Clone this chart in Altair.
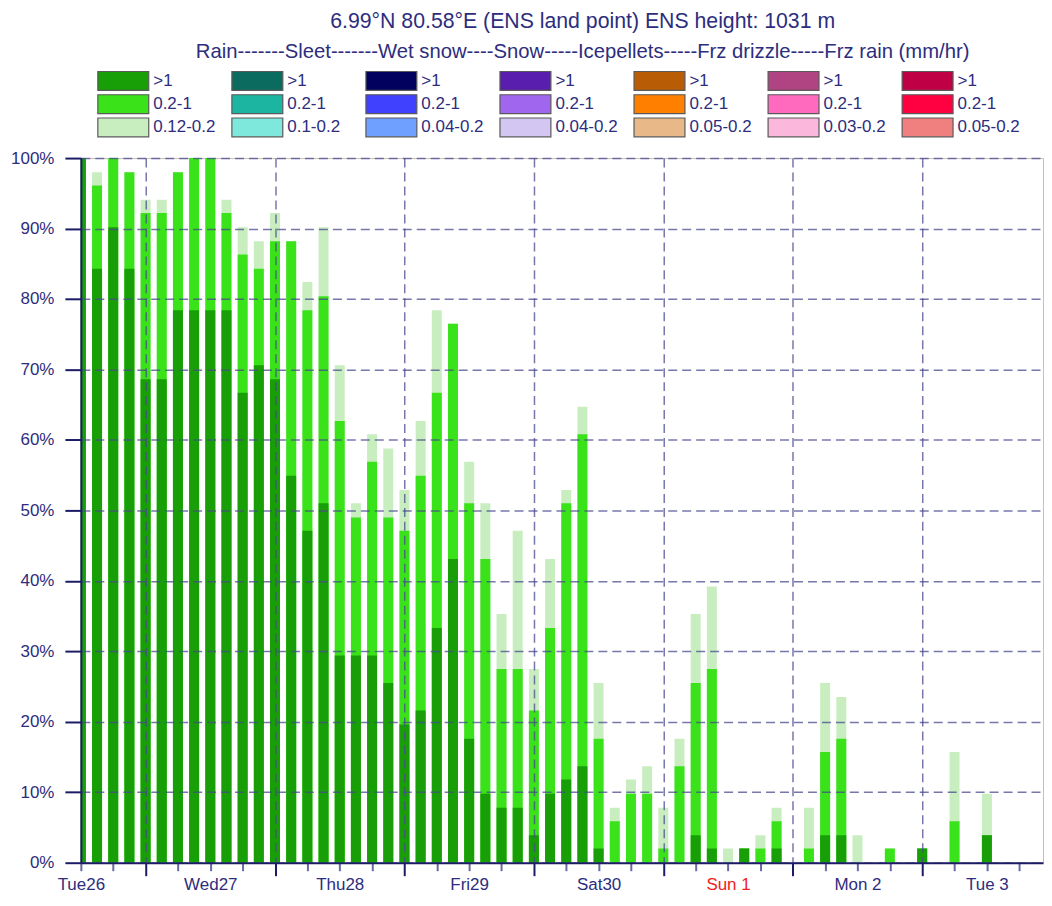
import altair as alt
import pandas as pd

# ---------------- data ----------------
# 3-hourly steps, hours after Tue 26 12 UTC
step_hours = list(range(0, 180, 3))

# cumulative probabilities (%) for rain
rain_gt1 = [100, 84.3, 90.2, 84.3, 68.6, 68.6, 78.4, 78.4, 78.4, 78.4,
            66.7, 70.6, 68.6, 54.9, 47.1, 51.0, 29.4, 29.4, 29.4, 25.5,
            19.6, 21.6, 33.3, 43.1, 17.6, 9.8, 7.8, 7.8, 3.9, 9.8,
            11.8, 13.7, 2.0, 0, 0, 0, 0, 0, 3.9, 2.0,
            0, 2.0, 0, 2.0, 0, 0, 3.9, 3.9, 0, 0,
            0, 0, 2.0, 0, 0, 0, 3.9, 0, 0, 0]
rain_gt02 = [100, 96.1, 100, 98.0, 92.2, 92.2, 98.0, 100, 100, 92.2,
             86.3, 84.3, 88.2, 88.2, 78.4, 80.4, 62.7, 49.0, 56.9, 49.0,
             47.1, 54.9, 66.7, 76.5, 51.0, 43.1, 27.5, 27.5, 21.6, 33.3,
             51.0, 60.8, 17.6, 5.9, 9.8, 9.8, 2.0, 13.7, 25.5, 27.5,
             0, 2.0, 2.0, 5.9, 0, 2.0, 15.7, 17.6, 0, 0,
             2.0, 0, 2.0, 0, 5.9, 0, 3.9, 0, 0, 0]
rain_gt012 = [100, 98.0, 100, 98.0, 94.1, 94.1, 98.0, 100, 100, 94.1,
              90.2, 88.2, 92.2, 88.2, 82.4, 90.2, 70.6, 51.0, 60.8, 58.8,
              52.9, 62.7, 78.4, 76.5, 56.9, 51.0, 35.3, 47.1, 27.5, 43.1,
              52.9, 64.7, 25.5, 7.8, 11.8, 13.7, 7.8, 17.6, 35.3, 39.2,
              2.0, 2.0, 3.9, 7.8, 0, 7.8, 25.5, 23.5, 3.9, 0,
              2.0, 0, 2.0, 0, 15.7, 0, 9.8, 0, 0, 0]

day_labels = ["Tue26", "Wed27", "Thu28", "Fri29", "Sat30", "Sun 1", "Mon 2", "Tue 3"]
red_day = "Sun 1"

# legend
legend_groups = ["Rain", "Sleet", "Wet snow", "Snow", "Icepellets", "Frz drizzle", "Frz rain"]
legend_labels = [
    [">1", "0.2-1", "0.12-0.2"],
    [">1", "0.2-1", "0.1-0.2"],
    [">1", "0.2-1", "0.04-0.2"],
    [">1", "0.2-1", "0.04-0.2"],
    [">1", "0.2-1", "0.05-0.2"],
    [">1", "0.2-1", "0.03-0.2"],
    [">1", "0.2-1", "0.05-0.2"],
]
legend_colors = [
    ["#189e06", "#3ae21a", "#c8eec0"],
    ["#0b6b5e", "#1bb5a2", "#7ee8dc"],
    ["#02025e", "#4040ff", "#70a0ff"],
    ["#5a1eae", "#a066ee", "#d4c6f2"],
    ["#b85c06", "#ff8000", "#e8b888"],
    ["#b04482", "#ff6abe", "#fcb8dc"],
    ["#c00044", "#ff0040", "#f08080"],
]

title_line = "6.99\u00b0N 80.58\u00b0E (ENS land point) ENS height: 1031 m"
subtitle_line = "Rain-------Sleet-------Wet snow----Snow-----Icepellets-----Frz drizzle-----Frz rain (mm/hr)"

# ---------------- styling ----------------
FONT = "Liberation Sans"
NAVY = "#2d2d7d"
NAVY_DARK = "#1c1c66"
GRID = "#4a4a90"
PLOT_W = 964
X_MAX = 178.4

df = pd.DataFrame({"h": step_hours, "gt1": rain_gt1, "gt02": rain_gt02, "gt012": rain_gt012})

label_expr = "datum.value % 24 == 0 ? " + str(day_labels).replace('"', "'") + "[datum.value / 24] : ''"
red_hour = day_labels.index(red_day) * 24

x_axis = alt.Axis(
    values=list(range(0, 177, 6)),
    labelExpr=label_expr,
    labelColor={"condition": {"test": f"datum.value == {red_hour}", "value": "#ee2222"}, "value": NAVY},
    labelFont=FONT, labelFontSize=17, labelAngle=0, labelPadding=6,
    labelFlush=False, labelOverlap=False, labelBound=False,
    tickSize={"condition": {"test": "datum.value % 24 == 12", "value": 13}, "value": 8},
    tickColor={"condition": {"test": "datum.value % 24 == 12", "value": NAVY_DARK}, "value": "#6a6aa0"},
    tickWidth=2,
    domainColor=NAVY_DARK, domainWidth=2,
    grid=True, gridColor=GRID, gridWidth=1.5, gridDash=[9, 5],
    gridOpacity={"condition": {"test": "datum.value % 24 == 12", "value": 0.75}, "value": 0},
    title=None, zindex=1,
)
y_axis = alt.Axis(
    values=list(range(0, 101, 10)),
    labelExpr="datum.value + '%'",
    labelFont=FONT, labelFontSize=17, labelColor=NAVY, labelPadding=11,
    tickSize=16, tickWidth=2, tickColor=NAVY_DARK,
    domainColor=NAVY_DARK, domainWidth=2,
    grid=True, gridColor=GRID, gridWidth=1.5, gridDash=[9, 5], gridOpacity=0.75,
    title=None, zindex=1,
)

xenc = alt.X("h:Q", scale=alt.Scale(domain=[0, X_MAX], nice=False, zero=False, padding=0), axis=x_axis)
yscale = alt.Scale(domain=[0, 100], nice=False, padding=0)

light = alt.Chart(df).mark_bar(size=10, clip=True, color=legend_colors[0][2]).encode(
    x=xenc, y=alt.Y("gt012:Q", scale=yscale, axis=y_axis))
med = alt.Chart(df).mark_bar(size=10, clip=True, color=legend_colors[0][1]).encode(
    x=xenc, y=alt.Y("gt02:Q", scale=yscale, axis=y_axis))
dark = alt.Chart(df).mark_bar(size=10, clip=True, color=legend_colors[0][0]).encode(
    x=xenc, y=alt.Y("gt1:Q", scale=yscale, axis=y_axis))

main = alt.layer(light, med, dark).properties(width=PLOT_W, height=706)

# ---------------- legend ----------------
rows = []
for c, (labs, cols) in enumerate(zip(legend_labels, legend_colors)):
    for r in range(3):
        rows.append({"col": c, "row": r, "label": labs[r], "color": cols[r], "group": legend_groups[c]})
ldf = pd.DataFrame(rows)

lx = alt.X("col:Q", axis=None, scale=alt.Scale(domain=[-0.3165, 6.861], nice=False, zero=False, padding=0))
ly = alt.Y("row:O", axis=None, scale=alt.Scale(type="point", padding=0.48))

swatch = alt.Chart(ldf).mark_point(
    shape="M-1,-0.37H1V0.37H-1Z", size=2601, filled=True, opacity=1,
    stroke="#5a5a5a", strokeWidth=1.2,
).encode(x=lx, y=ly, fill=alt.Fill("color:N", scale=None))

ltext = alt.Chart(ldf).mark_text(
    align="left", baseline="middle", dx=30, font=FONT, fontSize=17, color=NAVY,
).encode(x=lx, y=ly, text="label:N")

legend = alt.layer(swatch, ltext).properties(
    width=PLOT_W, height=69, view=alt.ViewBackground(strokeOpacity=0)
)

chart = alt.vconcat(legend, main, spacing=8.5).properties(
    title=alt.TitleParams(
        text=title_line, subtitle=subtitle_line,
        font=FONT, subtitleFont=FONT, fontSize=21.3, subtitleFontSize=20.3,
        fontWeight="normal", color=NAVY, subtitleColor=NAVY,
        anchor="middle", dx=56, offset=6.5, subtitlePadding=10,
    ),
    padding={"left": 2, "top": 2, "right": 0, "bottom": 0},
    background="white",
).configure_view(stroke="#c8c0b4", strokeWidth=1)

chart.save("out.html", embed_options={"renderer": "svg", "actions": False})
